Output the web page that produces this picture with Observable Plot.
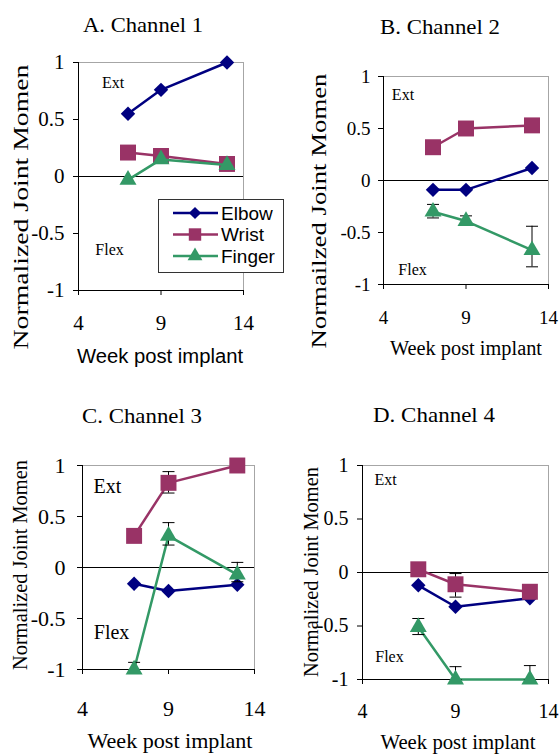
<!DOCTYPE html>
<html><head><meta charset="utf-8">
<script src="https://cdn.jsdelivr.net/npm/d3@7"></script>
<script src="https://cdn.jsdelivr.net/npm/@observablehq/plot@0.6"></script>
<style>
body{margin:0;background:#fff}
#page{position:relative;width:559px;height:755px;overflow:hidden;background:#fff}
#page svg{position:absolute;max-width:none}
</style></head><body><div id="page"></div>
<script>
// ---------- data ----------
const weeks = [7, 9, 13];
const seriesNames = ["Elbow", "Wrist", "Finger"];
const seriesColors = ["#000080", "#993366", "#339966"];
const seriesSymbols = ["diamond2", "square", "triangle"];
const xTicks = [4, 9, 14];
const yTicks = [-1, -0.5, 0, 0.5, 1];
const titles = ["A. Channel 1", "B. Channel 2", "C. Channel 3", "D. Channel 4"];
const yLabels = ["Normalized Joint Momen", "Normailzed Joint Momen", "Normalized Joint Momen", "Normalized Joint Momen"];
const xLabel = "Week post implant";

const ch1Elbow = [0.55, 0.76, 1.0];
const ch1Wrist = [0.21, 0.18, 0.11];
const ch1Finger = [-0.03, 0.15, 0.10];
const ch2Elbow = [-0.09, -0.09, 0.12];
const ch2Wrist = [0.32, 0.50, 0.53];
const ch2Finger = [-0.30, -0.39, -0.67];
const ch3Elbow = [-0.16, -0.23, -0.17];
const ch3Wrist = [0.31, 0.83, 1.0];
const ch3Finger = [-1.0, 0.31, -0.07];
const ch4Elbow = [-0.12, -0.32, -0.24];
const ch4Wrist = [0.03, -0.11, -0.18];
const ch4Finger = [-0.51, -1.0, -1.0];

// error bars: [series, week, low, high]
const ch1Err = [];
const ch2Err = [["Finger", 7, -0.36, -0.23], ["Finger", 9, -0.43, -0.34], ["Finger", 13, -0.83, -0.44]];
const ch3Err = [["Wrist", 9, 0.73, 0.94], ["Finger", 7, -1.0, -0.93], ["Finger", 9, 0.22, 0.44], ["Finger", 13, -0.14, 0.05]];
const ch4Err = [["Wrist", 9, -0.23, -0.01], ["Finger", 7, -0.58, -0.43], ["Finger", 9, -1.0, -0.88], ["Finger", 13, -1.0, -0.87]];

const panelValues = [
  [ch1Elbow, ch1Wrist, ch1Finger],
  [ch2Elbow, ch2Wrist, ch2Finger],
  [ch3Elbow, ch3Wrist, ch3Finger],
  [ch4Elbow, ch4Wrist, ch4Finger]
];
const panelErrors = [ch1Err, ch2Err, ch3Err, ch4Err];

// ---------- layout ----------
const SERIF = "'Times New Roman', 'Liberation Serif', serif";
const SANS = "Arial, 'Liberation Sans', sans-serif";
const layout = [
  {left:0, top:0, w:290, h:340, ml:78, mr:47, mt:62, mb:50, tick:21, yPad:9, xPad:20, note:16,
   ext:[6.09, 0.82], flex:[5.88, -0.64],
   title:[143, 32, 120, 22], ylab:[20, 207, 285, 22], xlab:[160, 363, 166, 20, SANS]},
  {left:280, top:0, w:279, h:340, ml:103, mr:11, mt:76, mb:56, tick:19, yPad:8, xPad:21, note:16,
   ext:[5.18, 0.82], flex:[5.76, -0.86],
   title:[440, 34, 120, 22], ylab:[318, 211, 275, 22], xlab:[466, 355, 152, 20, SERIF]},
  {left:0, top:380, w:280, h:375, ml:82, mr:26, mt:85, mb:86, tick:22, yPad:12, xPad:26, note:20,
   ext:[5.45, 0.79], flex:[5.69, -0.64],
   title:[142, 423, 120, 22], ylab:[19, 565, 210, 22], xlab:[170, 748, 165, 22, SERIF]},
  {left:280, top:380, w:279, h:375, ml:82, mr:11, mt:85, mb:76, tick:20, yPad:9, xPad:19, note:16,
   ext:[5.24, 0.87], flex:[5.45, -0.79],
   title:[434, 422, 122, 22], ylab:[310, 572, 210, 22], xlab:[458, 749, 155, 21, SERIF]}
];
const markerR = [6.5, 9, 6.3];

const capSymbol = {draw(ctx, size) { const r = Math.sqrt(size / Math.PI); ctx.moveTo(-r, 0); ctx.lineTo(r, 0); }};

const page = document.getElementById("page");

layout.forEach((L, i) => {
  const vals = panelValues[i];
  const rows = seriesNames.flatMap((s, k) => weeks.map((w, j) => ({series: s, week: w, v: vals[k][j]})));
  const errs = panelErrors[i].map(([s, w, lo, hi]) => ({series: s, week: w, lo, hi}));
  const marks = [
    Plot.ruleY([1], {stroke: "#a6a6a6"}),
    Plot.ruleX([14], {stroke: "#a6a6a6"}),
    Plot.ruleY([0, -1], {stroke: "#000"}),
    Plot.ruleX([4], {stroke: "#000"}),
    Plot.axisY({ticks: yTicks, tickFormat: d => String(d), tickSize: 5, tickPadding: L.yPad, label: null}),
    Plot.axisX({ticks: xTicks, tickFormat: d => String(d), tickSize: 5, tickPadding: L.xPad, label: null}),
    Plot.text([{t: "Ext", x: L.ext[0], y: L.ext[1]}, {t: "Flex", x: L.flex[0], y: L.flex[1]}],
      {x: "x", y: "y", text: "t", fontSize: L.note, fill: "#000"})
  ];
  seriesNames.forEach((s, k) => {
    const sr = rows.filter(d => d.series === s);
    const se = errs.filter(d => d.series === s);
    marks.push(Plot.line(sr, {x: "week", y: "v", stroke: seriesColors[k], strokeWidth: 2.5}));
    if (se.length) {
      marks.push(Plot.ruleX(se, {x: "week", y1: "lo", y2: "hi", stroke: "#000", strokeWidth: 1}));
      marks.push(Plot.dot(se, {x: "week", y: "hi", symbol: capSymbol, r: 6, stroke: "#000", fill: "none", strokeWidth: 1}));
      marks.push(Plot.dot(se, {x: "week", y: "lo", symbol: capSymbol, r: 6, stroke: "#000", fill: "none", strokeWidth: 1}));
    }
    marks.push(Plot.dot(sr, {x: "week", y: "v", symbol: seriesSymbols[k], r: markerR[k], fill: seriesColors[k], stroke: "none"}));
  });
  const svg = Plot.plot({
    width: L.w, height: L.h,
    marginLeft: L.ml, marginRight: L.mr, marginTop: L.mt, marginBottom: L.mb,
    x: {domain: [4, 14]}, y: {domain: [-1, 1]},
    style: {fontFamily: SERIF, fontSize: L.tick + "px", background: "transparent", overflow: "visible", color: "#000"},
    marks
  });
  svg.style.left = L.left + "px";
  svg.style.top = L.top + "px";
  page.appendChild(svg);
});

// ---------- titles and axis labels ----------
const ov = d3.create("svg").attr("width", 559).attr("height", 755)
  .style("left", "0px").style("top", "0px").style("pointer-events", "none");
layout.forEach((L, i) => {
  const [tx, ty, tl, tf] = L.title;
  ov.append("text").attr("x", tx).attr("y", ty).attr("text-anchor", "middle")
    .attr("font-family", SERIF).attr("font-size", tf)
    .attr("textLength", tl).attr("lengthAdjust", "spacingAndGlyphs").text(titles[i]);
  const [yx, yy, yl, yf] = L.ylab;
  ov.append("text").attr("transform", `translate(${yx},${yy}) rotate(-90)`)
    .attr("text-anchor", "middle").attr("dy", "0.35em")
    .attr("font-family", SERIF).attr("font-size", yf)
    .attr("textLength", yl).attr("lengthAdjust", "spacingAndGlyphs").text(yLabels[i]);
  const [xx, xy, xl, xf, ff] = L.xlab;
  ov.append("text").attr("x", xx).attr("y", xy).attr("text-anchor", "middle")
    .attr("font-family", ff).attr("font-size", xf)
    .attr("textLength", xl).attr("lengthAdjust", "spacingAndGlyphs").text(xLabel);
});
page.appendChild(ov.node());

// ---------- legend (panel A) ----------
const d3Symbols = [d3.symbolDiamond2 || d3.symbolDiamond, d3.symbolSquare, d3.symbolTriangle];
const legR = [5.5, 7, 5.5];
const leg = d3.create("svg").attr("width", 127).attr("height", 75)
  .style("left", "158px").style("top", "199px");
leg.append("rect").attr("x", 0.5).attr("y", 0.5).attr("width", 125).attr("height", 73)
  .attr("fill", "#fff").attr("stroke", "#333");
seriesNames.forEach((s, k) => {
  const y = 14 + k * 21.5;
  leg.append("line").attr("x1", 15).attr("x2", 60).attr("y1", y).attr("y2", y)
    .attr("stroke", seriesColors[k]).attr("stroke-width", 2.5);
  leg.append("path").attr("transform", `translate(37,${y})`)
    .attr("d", d3.symbol(d3Symbols[k], Math.PI * legR[k] * legR[k])()).attr("fill", seriesColors[k]);
  leg.append("text").attr("x", 63).attr("y", y).attr("dy", "0.36em")
    .attr("font-family", SANS).attr("font-size", 19).text(s);
});
page.appendChild(leg.node());
</script></body></html>
